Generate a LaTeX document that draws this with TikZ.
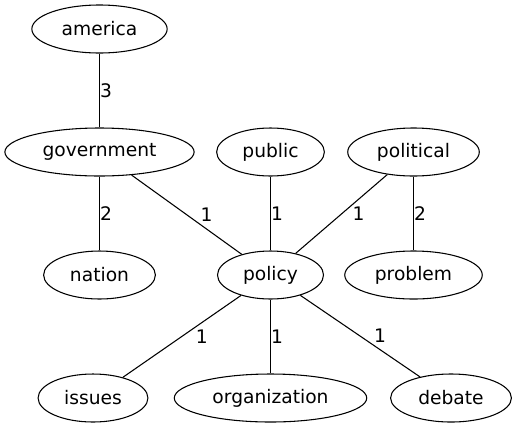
\documentclass[tikz,border=0pt]{standalone}
\usepackage{fontspec}
\setmainfont{DejaVu Sans}
\usetikzlibrary{shapes}

\begin{document}
\begin{tikzpicture}[x=0.75pt, y=-0.75pt, line width=0.8pt,
		term/.style={draw, ellipse, minimum height=36pt, inner xsep=7.5pt, font=\fontsize{14}{16}\selectfont},
		wt/.style={anchor=west, inner sep=0pt, font=\fontsize{14}{16}\selectfont},
		wts/.style={wt, xshift=10pt}]
			\useasboundingbox (0,0) rectangle (516,429);
			\node[term] (america) at (99.5,29) {america};
			\node[term] (government) at (99.5,152) {government};
			\node[term] (public) at (270.5,152) {public};
			\node[term] (political) at (413.5,152) {political};
			\node[term] (nation) at (99.5,275) {nation};
			\node[term] (policy) at (270.5,275) {policy};
			\node[term] (problem) at (413.5,275) {problem};
			\node[term] (issues) at (93,398) {issues};
			\node[term] (organization) at (270.5,398) {organization};
			\node[term] (debate) at (451,398) {debate};
			
			\draw (america) -- node[wt] {3} (government);
			\draw (government) -- node[wt] {2} (nation);
			\draw (government) -- node[wts] {1} (policy);
			\draw (public) -- node[wt] {1} (policy);
			\draw (political) -- node[wts, xshift=-2pt] {1} (policy);
			\draw (political) -- node[wt] {2} (problem);
			\draw (policy) -- node[wts] {1} (issues);
			\draw (policy) -- node[wt] {1} (organization);
			\draw (policy) -- node[wts] {1} (debate);
		\end{tikzpicture}
\end{document}
